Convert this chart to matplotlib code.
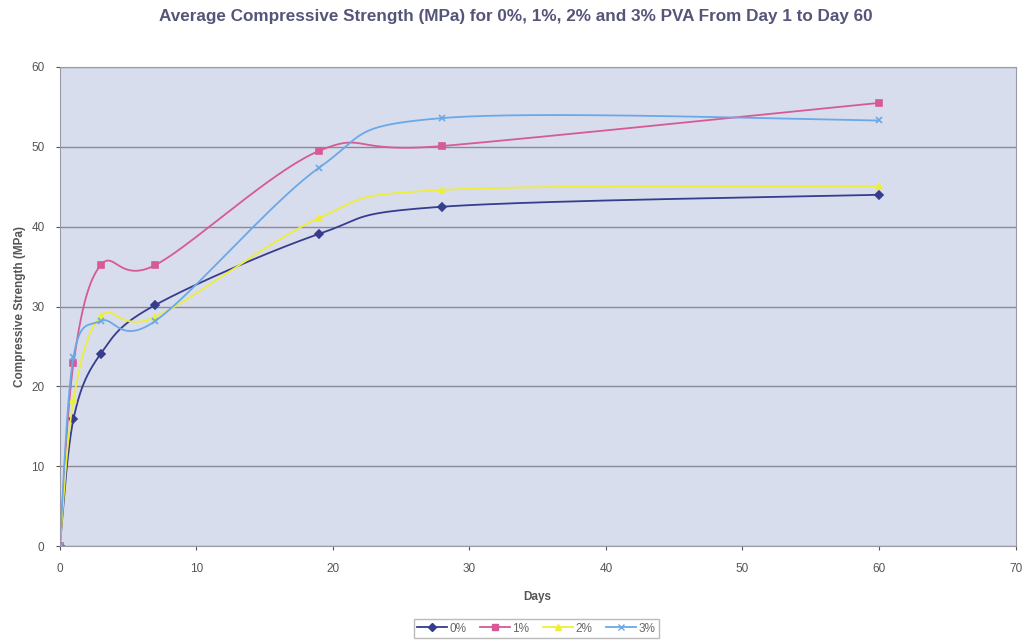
import matplotlib.pyplot as plt
import numpy as np

plt.rcParams['font.family'] = ['Liberation Sans', 'DejaVu Sans']

days = [0, 1, 3, 7, 19, 28, 60]
pva0 = [0, 15.9, 24.1, 30.2, 39.1, 42.5, 44.0]
pva1 = [0, 22.9, 35.2, 35.2, 49.5, 50.1, 55.5]
pva2 = [0, 18.3, 28.8, 28.7, 41.1, 44.6, 45.1]
pva3 = [0, 23.7, 28.2, 28.2, 47.4, 53.6, 53.3]
labels = ['0%', '1%', '2%', '3%']


def smooth(xs, ys, n=40):
    # Excel-style smoothed line: bezier segments with catmull-rom control points
    p = np.column_stack([xs, ys]).astype(float)
    pts = np.vstack([p[0], p, p[-1]])
    out = []
    t = np.linspace(0, 1, n)[:, None]
    for i in range(1, len(pts) - 2):
        p0, p1, p2, p3 = pts[i - 1], pts[i], pts[i + 1], pts[i + 2]
        b1 = p1 + (p2 - p0) / 6
        b2 = p2 - (p3 - p1) / 6
        seg = ((1 - t) ** 3) * p1 + 3 * ((1 - t) ** 2) * t * b1 + 3 * (1 - t) * t ** 2 * b2 + t ** 3 * p2
        out.append(seg)
    out = np.vstack(out)
    return out[:, 0], out[:, 1]


fig = plt.figure(figsize=(10.31, 6.44), dpi=100)
ax = fig.add_axes([0.058, 0.152, 0.927, 0.744])
ax.set_facecolor('#d8ddee')

series = [pva0, pva1, pva2, pva3]
colors = ['#363d8c', '#d65a93', '#eeee3a', '#6aa8e6']
markers = ['D', 's', '^', 'x']
sizes = [4.5, 5, 5, 5]
for ys, c, m, s, lab in zip(series, colors, markers, sizes, labels):
    sx, sy = smooth(days, ys)
    ax.plot(sx, sy, color=c, linewidth=1.3)
    ax.plot(days, ys, linestyle='none', marker=m, color=c, markersize=s, mew=1.2)
    ax.plot([], [], color=c, marker=m, markersize=s, linewidth=1.3, label=lab)

ax.set_xlim(0, 70)
ax.set_ylim(0, 60)
ax.set_xticks(range(0, 71, 10))
ax.set_yticks(range(0, 61, 10))
ax.yaxis.grid(True, color='#8a8a96', linewidth=1)
ax.set_axisbelow(True)
for sp in ax.spines.values():
    sp.set_color('#9a9aa6')
ax.tick_params(labelsize=8.5, colors='#555555', length=3)
ax.tick_params(axis='x', pad=9)
ax.tick_params(axis='y', pad=8)
ax.set_xlabel('Days', fontsize=8.5, fontweight='bold', color='#555555', labelpad=12)
ax.set_ylabel('Compressive Strength (MPa)', fontsize=8.5, fontweight='bold', color='#555555', labelpad=4)
fig.text(0.5, 0.975, 'Average Compressive Strength (MPa) for 0%, 1%, 2% and 3% PVA From Day 1 to Day 60',
         ha='center', va='center', fontsize=12.3, fontweight='bold', color='#55557a')
fig.legend(loc='center', bbox_to_anchor=(0.52, 0.024), ncol=4, fontsize=8.5, frameon=True,
           fancybox=False, edgecolor='#aaaaaa', handlelength=2.5, columnspacing=1.2,
           borderpad=0.3, handletextpad=0.2, labelcolor='#666666')

fig.savefig('out.png', dpi=100)
